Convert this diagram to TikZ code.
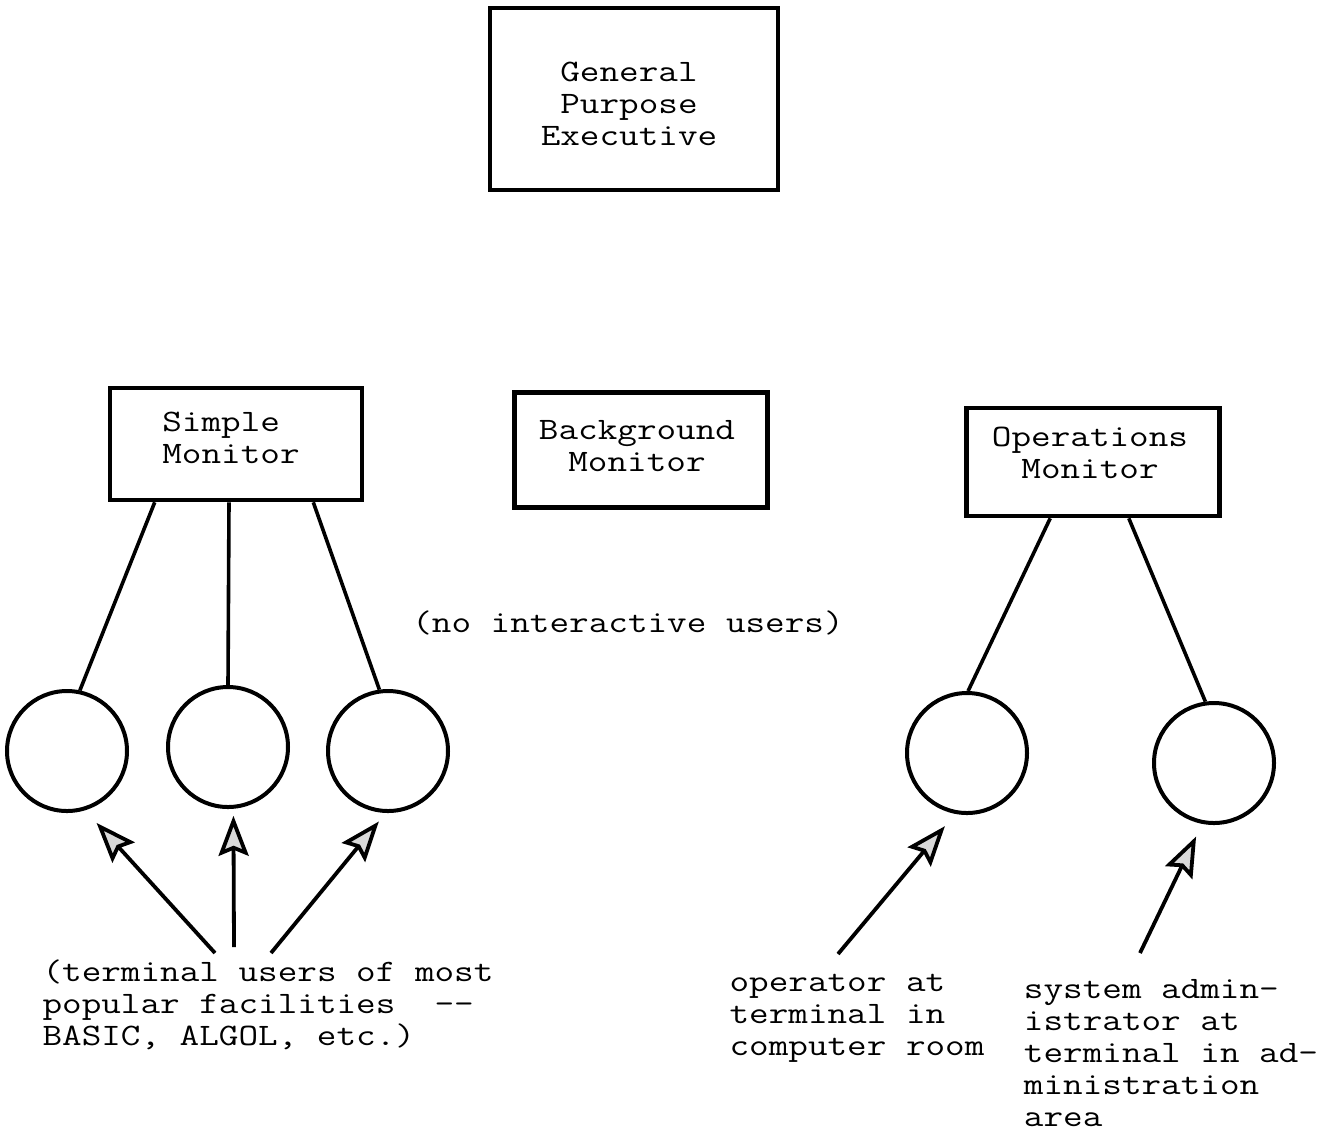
\documentclass[tikz,border=0pt]{standalone}
\usepackage{fontspec}
\setmonofont{Latin Modern Mono}[FakeStretch=1.22]
\usetikzlibrary{arrows.meta,calc}
\tikzset{
  typew/.style={font=\ttfamily\fontsize{15.6}{16}\selectfont},
  monbox/.style={draw,line width=2.3pt,inner sep=0pt},
  montext/.style={align=center,inner sep=0pt,typew},
  userterm/.style={circle,draw,line width=2pt,minimum size=60pt,inner sep=0pt},
  tree/.style={line width=1.8pt},
  userarr/.style={-{Stealth[length=20pt,width=15pt,inset=3pt,fill=gray!30]},line width=1.9pt},
  note/.style={align=left,inner sep=0pt,typew}
}
\begin{document}
\begin{tikzpicture}[x=0.5pt,y=-0.5pt]
  \useasboundingbox (0,0) rectangle (1328,1132);
  \node[monbox,minimum width=144pt,minimum height=91pt] (gpe) at (634,99) {};
  \node[montext] (gpetxt) at (629,104) {General\\Purpose\\Executive};

  \node[monbox,minimum width=126pt,minimum height=56pt] (simple) at (236,444) {};
  \node[montext,align=left] (simpletxt) at (231,438) {Simple\\Monitor};
  \node[monbox,minimum width=126.5pt,minimum height=57.5pt] (backgr) at (641,450) {};
  \node[montext] (backgrtxt) at (637,446) {Background\\Monitor};
  \node[monbox,minimum width=126.5pt,minimum height=54pt] (ops) at (1093,462) {};
  \node[montext] (opstxt) at (1090,453) {Operations\\Monitor};
  \node[typew,inner sep=0pt] (noint) at (628,623) {(no interactive users)};

  % terminals
  \foreach \n/\x/\y in {c1/67/751,c2/228/747,c3/388/751,c4/967/753,c5/1214/763}
    \node[userterm] (\n) at (\x,\y) {};

  \draw[tree] ($(simple.south west)+(47,0)$) -- (c1.78);
  \draw[tree] ($(simple.south)+(-7,0)$) -- (c2.90);
  \draw[tree] ($(simple.south east)+(-51,0)$) -- (c3.98);
  \draw[tree] ($(ops.south west)+(86,0)$) -- (c4.89);
  \draw[tree] ($(ops.south east)+(-93,0)$) -- (c5.98);

  \coordinate (u1) at (215,953);
  \coordinate (u2) at (234,947);
  \coordinate (u3) at (271,953);
  \coordinate (u4) at (838,954);
  \coordinate (u5) at (1140,953);
  \draw[userarr,shorten >=8.5pt] (u1) -- (c1.-73);
  \draw[userarr,shorten >=3.5pt] (u2) -- (c2.-85);
  \draw[userarr,shorten >=5.5pt] (u3) -- (c3.-92);
  \draw[userarr,shorten >=8pt] (u4) -- (c4.-101);
  \draw[userarr,shorten >=7pt] (u5) -- (c5.-101);

  \node[note] (popular) at (268,1005) {(terminal users of most\\popular facilities~~--\\BASIC, ALGOL, etc.)};
  \node[note] (operator) at (857,1018) {operator at\\terminal in\\computer room};
  \node[note] (sysadm) at (1171,1053) {system admin-\\istrator at\\terminal in ad-\\ministration\\area};
\end{tikzpicture}
\end{document}
